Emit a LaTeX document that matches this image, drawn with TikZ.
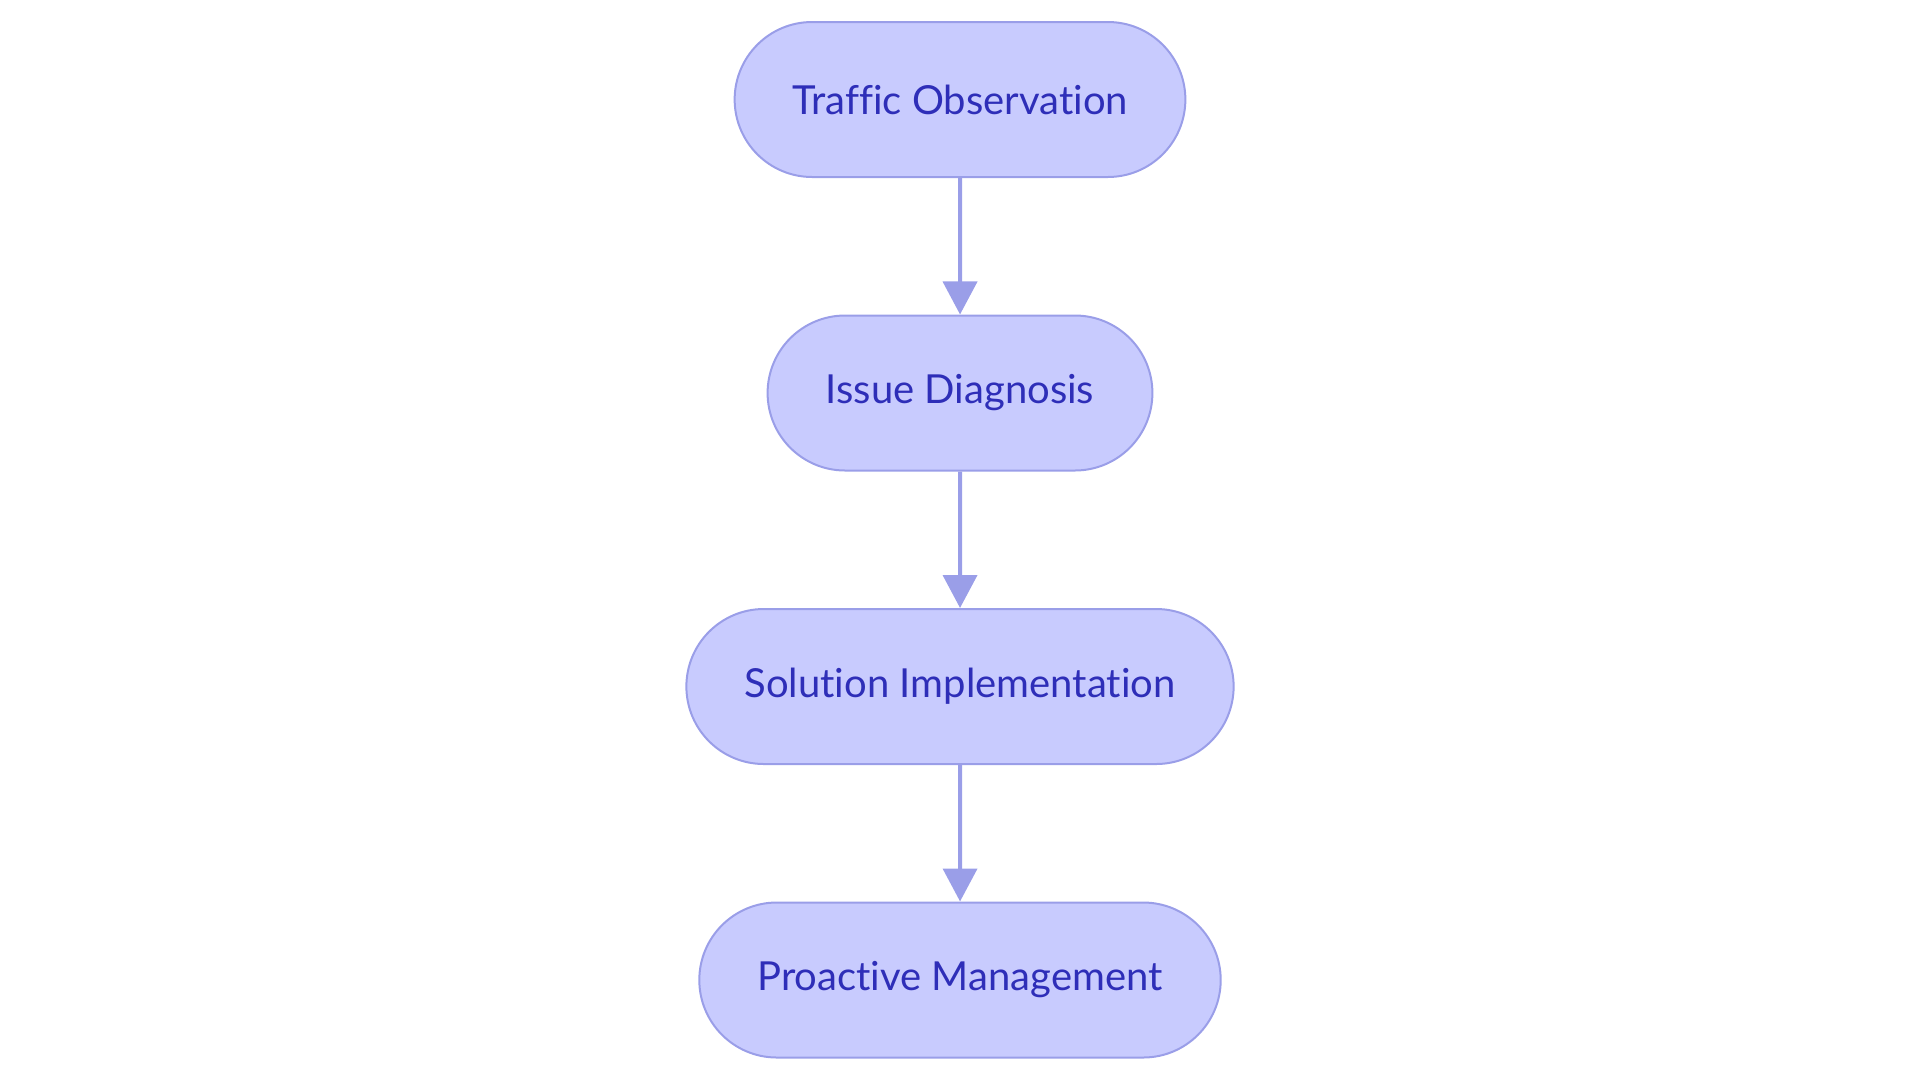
\documentclass[tikz,border=0pt]{standalone}
\usepackage{fontspec}
\setmainfont{Lato}[Ligatures=NoCommon]
\usetikzlibrary{shapes.misc, arrows.meta}
\definecolor{boxfill}{HTML}{C8CBFE}
\definecolor{boxline}{HTML}{9A9EE8}
\definecolor{boxtext}{HTML}{2E2EB8}
\tikzset{
    stage/.style={rounded rectangle, draw=boxline, fill=boxfill, line width=1pt,
        text=boxtext, font=\fontsize{20}{24}\selectfont, minimum height=77.5pt, inner xsep=28pt},
    flow/.style={draw=boxline, line width=2pt, -{Triangle[length=16.5pt,width=17pt]}},
}
\begin{document}
\begin{tikzpicture}
		\useasboundingbox (0,0) rectangle (960pt,-541.5pt);
		\node[stage] (obs) at (480pt,-49.75pt) {Traffic Observation};
		\node[stage] (diag) at (480pt,-196.5pt) {Issue Diagnosis};
		\node[stage] (impl) at (480pt,-343.25pt) {Solution Implementation};
		\node[stage] (mgmt) at (480pt,-490pt) {Proactive Management};
		\draw[flow] (obs) -- (diag);
		\draw[flow] (diag) -- (impl);
		\draw[flow] (impl) -- (mgmt);
	\end{tikzpicture}
\end{document}
